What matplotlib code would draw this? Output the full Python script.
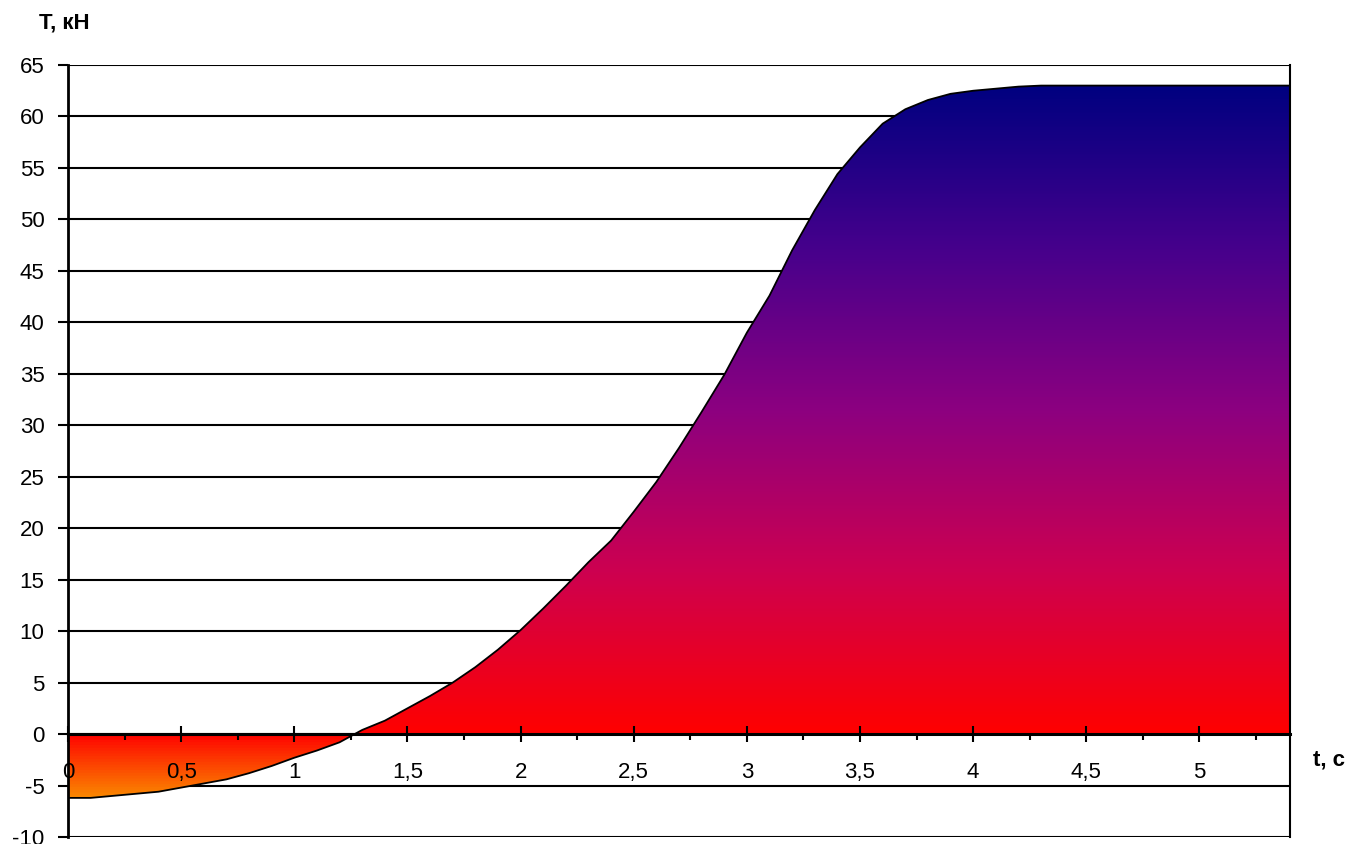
import numpy as np
import matplotlib
matplotlib.use("Agg")
import matplotlib.pyplot as plt
from matplotlib.colors import LinearSegmentedColormap
from matplotlib.ticker import MultipleLocator

plt.rcParams['font.family'] = ['Liberation Sans', 'DejaVu Sans']

# time, s (category axis, step 0.1)
t = [0.0, 0.1, 0.2, 0.3, 0.4, 0.5, 0.6, 0.7, 0.8, 0.9,
     1.0, 1.1, 1.2, 1.3, 1.4, 1.5, 1.6, 1.7, 1.8, 1.9,
     2.0, 2.1, 2.2, 2.3, 2.4, 2.5, 2.6, 2.7, 2.8, 2.9,
     3.0, 3.1, 3.2, 3.3, 3.4, 3.5, 3.6, 3.7, 3.8, 3.9,
     4.0, 4.1, 4.2, 4.3, 4.4, 4.5, 4.6, 4.7, 4.8, 4.9,
     5.0, 5.1, 5.2, 5.3, 5.4]

# force T, kN
T = [-6.2, -6.2, -6.0, -5.8, -5.6, -5.2, -4.8, -4.4, -3.8, -3.1,
     -2.3, -1.6, -0.8, 0.4, 1.3, 2.5, 3.7, 5.0, 6.5, 8.2,
     10.1, 12.2, 14.4, 16.7, 18.8, 21.6, 24.5, 27.8, 31.3, 34.9,
     39.0, 42.6, 47.0, 50.9, 54.4, 57.0, 59.3, 60.7, 61.6, 62.2,
     62.5, 62.7, 62.9, 63.0, 63.0, 63.0, 63.0, 63.0, 63.0, 63.0,
     63.0, 63.0, 63.0, 63.0, 63.0]

x_labels = ['0', '0,5', '1', '1,5', '2', '2,5', '3', '3,5', '4', '4,5', '5']
y_ticks = list(range(-10, 70, 5))

fig = plt.figure(figsize=(13.49, 8.44), dpi=100)
ax = fig.add_axes([68 / 1349, 7 / 844, (1290 - 68) / 1349, (837 - 65) / 844])

ax.set_xlim(0, 5.4)
ax.set_ylim(-10, 65)

# gradient fill: orange below zero -> red at zero -> navy at the top
ylo, yhi = min(T), max(T)
z0 = (0 - ylo) / (yhi - ylo)
stops = [
    (0.0, (250/255, 135/255, 0)),
    (z0, (1.0, 0.0, 0.0)),
    (z0 + (1 - z0) * 0.25, (205/255, 0, 80/255)),
    (z0 + (1 - z0) * 0.5, (140/255, 0, 128/255)),
    (z0 + (1 - z0) * 0.75, (70/255, 0, 140/255)),
    (1.0, (0, 0, 128/255)),
]
cmap = LinearSegmentedColormap.from_list('grad', stops)
grad = np.linspace(0, 1, 512).reshape(-1, 1)
poly = ax.fill_between(t, T, 0, facecolor='none', edgecolor='none')
img = ax.imshow(grad, cmap=cmap, aspect='auto', origin='lower',
                extent=[0, 5.4, ylo, yhi], zorder=0.5)
img.set_clip_path(poly.get_paths()[0], transform=ax.transData)

ax.plot(t, T, color='black', lw=1.3, zorder=2)

# horizontal grid lines (behind the fill)
for yv in y_ticks:
    ax.axhline(yv, color='black', lw=1.5, zorder=0.3)

ax.spines['top'].set_visible(False)
ax.spines['bottom'].set_position(('data', 0))
ax.spines['bottom'].set_linewidth(2.2)
ax.spines['left'].set_linewidth(2)
ax.spines['right'].set_linewidth(1.5)

ax.set_yticks(y_ticks)
ax.set_yticklabels([str(v) for v in y_ticks])
ax.tick_params(axis='y', direction='out', length=7, width=1.5, pad=10,
               labelsize=16)

ax.set_xticks([i * 0.5 for i in range(len(x_labels))])
ax.set_xticklabels(x_labels)
ax.xaxis.set_minor_locator(MultipleLocator(0.25))
ax.tick_params(axis='x', which='major', direction='inout', length=12,
               width=1.5, pad=14, labelsize=16)
ax.tick_params(axis='x', which='minor', direction='out', length=4, width=1.5)

fig.text(64 / 1349, 1 - 23 / 844, 'T, кН', fontsize=16, fontweight='bold',
         ha='center', va='center')
fig.text(1329 / 1349, 1 - 760 / 844, 't, c', fontsize=16, fontweight='bold',
         ha='center', va='center')

fig.savefig('out.png', dpi=100)
